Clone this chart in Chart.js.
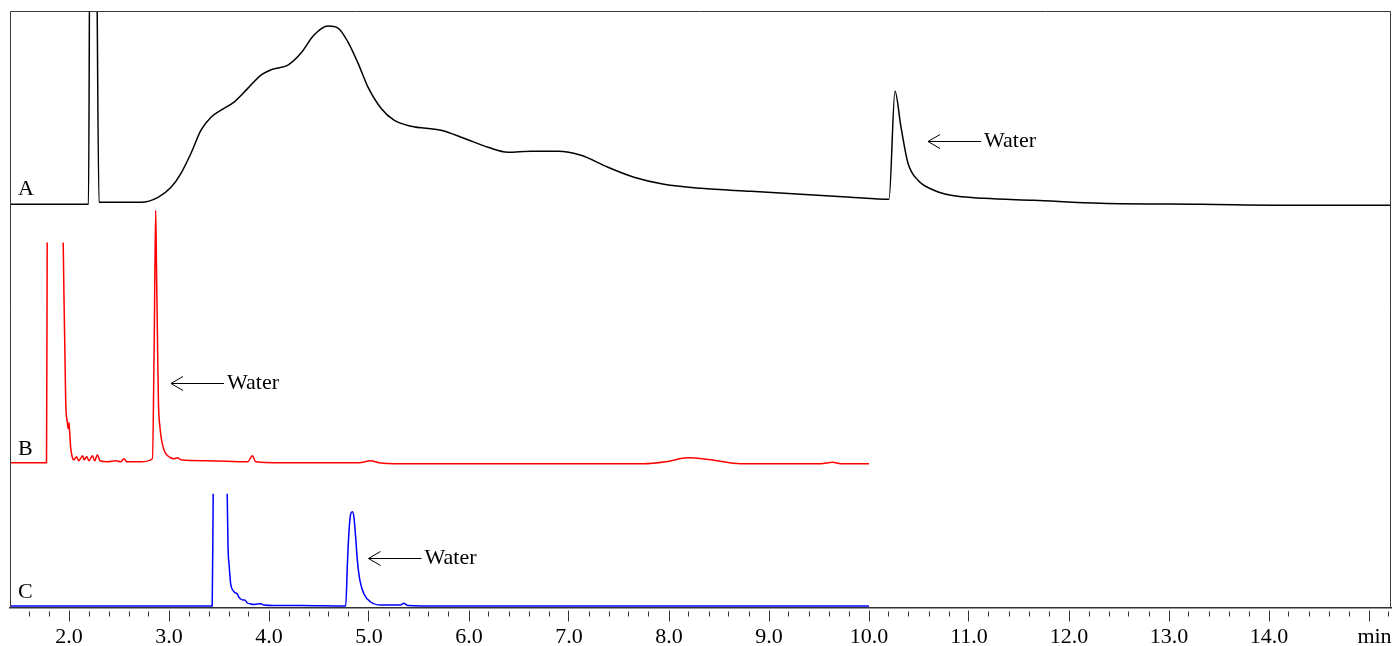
<!DOCTYPE html>
<html>
<head>
<meta charset="utf-8">
<title>Cromatogramas A, B, C</title>
<script src="https://cdn.jsdelivr.net/npm/chart.js@4.4.0/dist/chart.umd.min.js"></script>
<style>
  html, body { margin: 0; padding: 0; background: #fff; }
  #contenedor { width: 1395px; height: 646px; position: relative; }
</style>
</head>
<body>
<div id="contenedor"><canvas id="GraficoCromatogramas"></canvas></div>
<script>
// Tiempos de retencion (min) y senal de cada corrida
const timeA = [1.41, 2.195, 2.21, 2.27, 2.30, 2.45, 2.62, 2.72, 2.89, 3.02, 3.12, 3.22, 3.32, 3.42, 3.52,
  3.65, 3.79, 3.92, 4.04, 4.19, 4.32, 4.45, 4.59, 4.69, 4.79, 4.89, 4.99, 5.12, 5.25, 5.42, 5.72,
  5.95, 6.19, 6.39, 6.62, 6.89, 7.12, 7.39, 7.65, 7.95, 8.32, 8.82, 9.32, 9.82, 10.20, 10.26,
  10.32, 10.39, 10.49, 10.65, 10.82, 11.15, 11.65, 12.32, 13.32, 14.32, 15.22];
const signalA = [-1, -1, 300, 300, 1, 1, 1, 1, 6, 16, 30, 50, 73, 86, 93,
  101, 115, 128, 134, 138, 150, 168, 177, 175, 161, 140, 116, 95, 83, 77, 73,
  65, 56, 51, 52, 52, 48, 36, 26, 19, 15, 12, 9, 6, 4, 112,
  76, 40, 23, 13, 8, 5, 3, 0, -1, -2, -2];

const timeB = [1.41, 1.775, 1.782, 1.86, 1.942, 1.967, 1.984, 1.992, 2.0, 2.007, 2.017, 2.032, 2.047,
  2.077, 2.097, 2.137, 2.15, 2.177, 2.2, 2.234, 2.257, 2.284, 2.31, 2.384, 2.467, 2.517, 2.55,
  2.577, 2.717, 2.834, 2.852, 2.867, 2.875, 2.884, 2.894, 2.91, 2.927, 2.953, 2.987, 3.05, 3.087,
  3.117, 3.387, 3.787, 3.834, 3.867, 4.117, 4.9, 5.017, 5.1, 5.317, 6.317, 7.317, 7.747, 7.967,
  8.187, 8.417, 8.717, 9.517, 9.637, 9.717, 10.0];
const signalB = [0, 0, 220, null, 220, 62, 40, 34, 40, 30, 15, 6, 3,
  6, 2, 7, 3, 6, 2, 7, 2, 8, 2, 1, 2, 1, 4,
  1, 1, 4, 120, 252, 195, 129, 62, 35, 22, 12, 7, 4, 5,
  3, 2, 1, 7, 1, 0, 0, 2, 0, -1, -1, -1, -1, 1,
  5, 3, -1, -1, 0.5, -1, -1];

const timeC = [1.41, 3.432, 3.442, 3.51, 3.582, 3.59, 3.602, 3.617, 3.637, 3.652, 3.667, 3.684, 3.697,
  3.717, 3.737, 3.757, 3.784, 3.817, 3.85, 3.877, 3.917, 3.947, 4.05, 4.317, 4.767, 4.784, 4.8,
  4.817, 4.834, 4.85, 4.867, 4.884, 4.91, 4.95, 5.017, 5.117, 5.317, 5.347, 5.387, 5.717, 10.0];
const signalC = [0, 0, 112, null, 112, 60, 40, 22, 16, 14, 13, 12, 9,
  7, 6, 6, 3, 2, 1.5, 2, 2.3, 1, 0.5, 0.5, 0, 42, 75,
  92, 94, 88, 68, 45, 25, 12, 4, 1, 1, 2.7, 0.5, 0, 0];

const traceNames = ['A', 'B', 'C'];
const traceOffsets = [404, 145, 2];
const traceColors = ['#000000', '#ff0000', '#0000ff'];

// Etiquetas del eje de tiempo
const majorTicks = [2, 3, 4, 5, 6, 7, 8, 9, 10, 11, 12, 13, 14, 15];
const tickLabels = ['2.0', '3.0', '4.0', '5.0', '6.0', '7.0', '8.0', '9.0', '10.0', '11.0', '12.0', '13.0', '14.0', '\u2002min'];

// Flechas "Water": corrida, tiempo de la punta y nivel de senal
const waterPeaks = [
  { trace: 'A', time: 10.59, level: 62 },
  { trace: 'B', time: 3.02, level: 80 },
  { trace: 'C', time: 4.995, level: 48 }
];

const fuente = '"Liberation Serif", "Times New Roman", serif';

function puntos(times, signal, offset) {
  return times.map((t, i) => ({ x: t, y: signal[i] === null ? null : signal[i] + offset }));
}

function esMayor(v) {
  return Math.abs(v - Math.round(v)) < 1e-6;
}

// marco, nombres de corridas y flechas
const marcoPlugin = {
  id: 'marco',
  afterDatasetsDraw(chart) {
    const ctx = chart.ctx;
    const a = chart.chartArea;
    const x = chart.scales.x;
    const y = chart.scales.y;
    ctx.save();
    ctx.strokeStyle = '#3a3a3a';
    ctx.lineWidth = 1;
    ctx.beginPath();
    ctx.moveTo(a.left + 0.5, a.bottom);
    ctx.lineTo(a.left + 0.5, a.top + 0.5);
    ctx.lineTo(a.right - 0.5, a.top + 0.5);
    ctx.lineTo(a.right - 0.5, a.bottom);
    ctx.stroke();

    ctx.font = '22px ' + fuente;
    ctx.fillStyle = '#000';
    ctx.textBaseline = 'alphabetic';
    traceNames.forEach((n, i) => {
      ctx.fillText(n, a.left + 8, y.getPixelForValue(traceOffsets[i] + 8));
    });

    ctx.strokeStyle = '#000';
    ctx.lineWidth = 1;
    waterPeaks.forEach(w => {
      const i = traceNames.indexOf(w.trace);
      const px = x.getPixelForValue(w.time);
      const py = Math.round(y.getPixelForValue(traceOffsets[i] + w.level)) + 0.5;
      const ex = x.getPixelForValue(w.time + 0.53);
      ctx.beginPath();
      ctx.moveTo(ex, py);
      ctx.lineTo(px, py);
      ctx.moveTo(px + 12, py - 7);
      ctx.lineTo(px, py);
      ctx.lineTo(px + 12, py + 7);
      ctx.stroke();
      ctx.textBaseline = 'middle';
      ctx.fillText('Water', ex + 3, py);
    });
    ctx.restore();
  }
};

const GraficoCromatogramas = new Chart(document.getElementById('GraficoCromatogramas'), {
  type: 'line',
  data: {
    datasets: traceNames.map((n, i) => ({
      label: n,
      data: puntos([timeA, timeB, timeC][i], [signalA, signalB, signalC][i], traceOffsets[i]),
      borderColor: traceColors[i],
      borderWidth: 1.5,
      pointRadius: 0,
      spanGaps: false,
      cubicInterpolationMode: 'monotone'
    }))
  },
  options: {
    responsive: true,
    maintainAspectRatio: false,
    animation: false,
    layout: { padding: { left: 10, right: 4, top: 11, bottom: 0 } },
    plugins: { legend: { display: false }, tooltip: { enabled: false } },
    scales: {
      x: {
        type: 'linear',
        min: 1.41,
        max: 15.22,
        afterBuildTicks: (scale) => {
          const lista = [];
          for (let k = 8; k <= 76; k++) lista.push({ value: k / 5 });
          scale.ticks = lista;
        },
        ticks: {
          autoSkip: false,
          maxRotation: 0,
          minRotation: 0,
          padding: 3,
          color: '#000',
          font: { family: fuente, size: 22, lineHeight: 0.5 },
          callback: (v) => {
            const idx = majorTicks.findIndex(m => Math.abs(m - v) < 1e-6);
            return idx >= 0 ? tickLabels[idx] : '';
          }
        },
        grid: {
          drawOnChartArea: false,
          drawTicks: true,
          tickLength: 21,
          tickColor: '#333',
          tickWidth: 1,
          tickBorderDash: (c) => esMayor(c.tick.value) ? [0, 2, 11, 100] : [0, 3, 5, 100]
        },
        border: { display: true, color: '#333', width: 1.5 }
      },
      y: {
        display: false,
        min: 0,
        max: 596
      }
    }
  },
  plugins: [marcoPlugin]
});
</script>
</body>
</html>
